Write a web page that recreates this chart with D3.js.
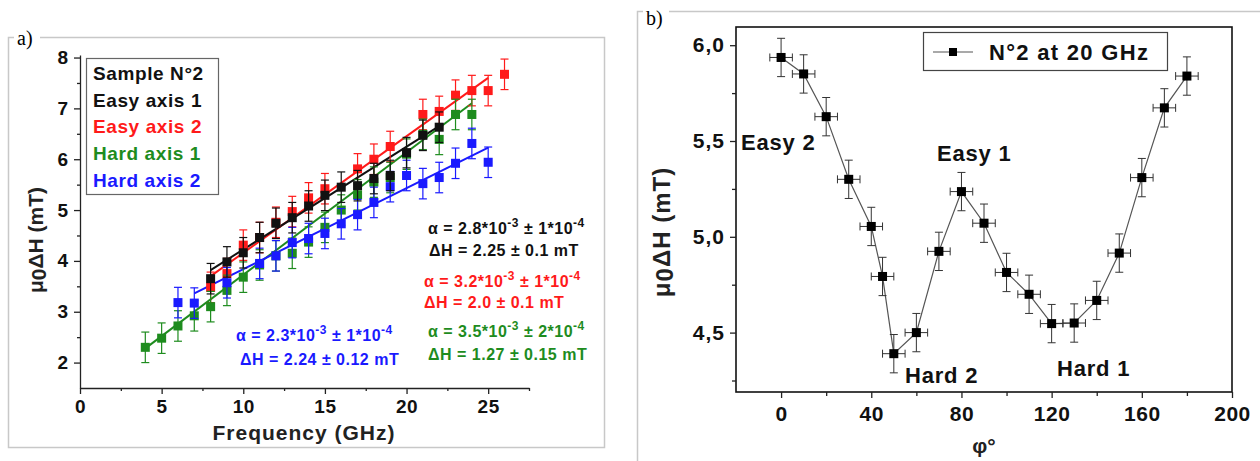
<!DOCTYPE html>
<html><head><meta charset="utf-8">
<script src="https://cdnjs.cloudflare.com/ajax/libs/d3/7.8.5/d3.min.js"></script>
<style>
html,body{margin:0;padding:0;background:#fff;}
svg{display:block;}
text{font-family:"Liberation Sans",Arial,sans-serif;font-weight:bold;}
</style></head><body>
<svg id="c" width="1260" height="461"></svg>
<script>
// ---- Panel a data ----
const freqEasy1 = [8,9,10,11,12,13,14,15,16,17,18,19,20,21,22];
const easy1 = [3.65,3.98,4.16,4.46,4.74,4.85,5.08,5.29,5.45,5.48,5.62,5.68,6.13,6.47,6.63];
const freqEasy2 = [8,9,10,11,12,13,14,15,17,18,19,21,22,23,24,25,26];
const easy2 = [3.48,3.75,4.31,4.46,4.76,4.97,5.24,5.42,5.81,6.0,6.25,6.88,6.94,7.26,7.35,7.35,7.67];
const freqHard1 = [4,5,6,7,8,9,10,11,12,13,14,15,16,17,18,19,20,21,22,23,24];
const hard1 = [2.3,2.48,2.72,2.92,3.1,3.42,3.68,3.92,4.1,4.15,4.37,4.66,5.0,5.3,5.55,5.64,6.1,6.49,6.39,6.88,6.88];
const freqHard2 = [6,7,9,11,12,13,14,15,16,17,18,19,20,21,22,23,24,25];
const hard2 = [3.18,3.17,3.57,3.95,4.1,4.36,4.44,4.54,4.73,4.91,5.15,5.46,5.68,5.52,5.64,5.92,6.31,5.94];
const fitEasy1 = [[8,3.82],[22,6.65]];
const fitEasy2 = [[8,3.7],[25,7.6]];
const fitHard1 = [[4,2.28],[24,7.1]];
const fitHard2 = [[7,3.36],[25,6.23]];
const errA = 0.3;
const legendA = ["Sample N°2","Easy axis 1","Easy axis 2","Hard axis 1","Hard axis 2"];
const xTicksA = [0,5,10,15,20,25];
const yTicksA = [2,3,4,5,6,7,8];

// ---- Panel b data ----
const phi = [0,10,20,30,40,45,50,60,70,80,90,100,110,120,130,140,150,160,170,180];
const dH20 = [5.936,5.85,5.627,5.30,5.054,4.793,4.39,4.50,4.924,5.236,5.071,4.814,4.70,4.547,4.55,4.668,4.915,5.309,5.673,5.839];
const errPhi = 5;
const errB = 0.1;
const xTicksB = [0,40,80,120,160,200];
const yTicksB = [4.5,5.0,5.5,6.0];

const RED="#ff1a1a", BLK="#111", GRN="#1e8c1e", BLU="#1a1aff";

const svg = d3.select("#c");

// ================= Panel a =================
svg.append("rect").attr("x",8.5).attr("y",37.5).attr("width",596).attr("height",410)
  .attr("fill","#fff").attr("stroke","#c8c8c8").attr("stroke-width",1.5);
svg.append("rect").attr("x",14).attr("y",26).attr("width",26).attr("height",22).attr("fill","#fff");
svg.append("text").attr("x",17).attr("y",45).text("a)")
  .style("font-family","'Liberation Serif',serif").style("font-weight","normal").style("font-size","20px");

const xA = d3.scaleLinear().domain([0,27.5]).range([80,529]);
const yA = d3.scaleLinear().domain([1.5,8.05]).range([388,55]);

const gA = svg.append("g");
function styleAxis(g){
  g.selectAll("path").attr("stroke","#222").attr("stroke-width",1.3);
  g.selectAll("line").attr("stroke","#222").attr("stroke-width",1.3);
}
const axXA = gA.append("g").attr("transform","translate(0,388)")
  .call(d3.axisBottom(xA).tickValues(xTicksA).tickSize(6).tickSizeOuter(0).tickPadding(6).tickFormat(d3.format("d")));
axXA.selectAll("text").style("font-size","19px").attr("fill","#111").attr("letter-spacing","0.5px");
styleAxis(axXA);
gA.append("g").attr("transform","translate(0,388)")
  .call(d3.axisBottom(xA).tickValues([2.5,7.5,12.5,17.5,22.5,27.5]).tickSize(3).tickFormat("")).call(g=>{g.select("path").remove();styleAxis(g);});
const axYA = gA.append("g").attr("transform","translate(80,0)")
  .call(d3.axisLeft(yA).tickValues(yTicksA).tickSize(6).tickSizeOuter(0).tickPadding(6).tickFormat(d3.format("d")));
axYA.selectAll("text").style("font-size","19px").attr("fill","#111");
styleAxis(axYA);
gA.append("g").attr("transform","translate(80,0)")
  .call(d3.axisLeft(yA).tickValues([2.5,3.5,4.5,5.5,6.5,7.5]).tickSize(3).tickFormat("")).call(g=>{g.select("path").remove();styleAxis(g);});

svg.append("text").attr("x",304).attr("y",440).attr("text-anchor","middle")
  .style("font-size","21px").attr("letter-spacing","1px").attr("fill","#222").text("Frequency (GHz)");
const ylA = svg.append("text").attr("transform","translate(43,240) rotate(-90)").attr("text-anchor","middle")
  .style("font-size","21px").attr("fill","#222");
ylA.append("tspan").text("μ");
ylA.append("tspan").attr("dy",3).text("0");
ylA.append("tspan").attr("dy",-3).text("ΔH (mT)");

// fits
const lineA = d3.line().x(d=>xA(d[0])).y(d=>yA(d[1]));
[[fitEasy2,RED],[fitEasy1,BLK],[fitHard1,GRN],[fitHard2,BLU]].forEach(([f,c])=>{
  svg.append("path").attr("d",lineA(f)).attr("stroke",c).attr("stroke-width",2).attr("fill","none");
});

function seriesA(fx,vals,col){
  const g = svg.append("g");
  const data = fx.map((f,i)=>({f,v:vals[i]}));
  const eb = g.selectAll(".eb").data(data).enter().append("g");
  eb.append("line").attr("x1",d=>xA(d.f)).attr("x2",d=>xA(d.f)).attr("y1",d=>yA(d.v-errA)).attr("y2",d=>yA(d.v+errA))
    .attr("stroke",col).attr("stroke-width",1.2);
  [1,-1].forEach(s=>{
    eb.append("line").attr("x1",d=>xA(d.f)-4).attr("x2",d=>xA(d.f)+4).attr("y1",d=>yA(d.v+s*errA)).attr("y2",d=>yA(d.v+s*errA))
      .attr("stroke",col).attr("stroke-width",1.2);
  });
  g.selectAll(".m").data(data).enter().append("rect")
    .attr("x",d=>xA(d.f)-4.5).attr("y",d=>yA(d.v)-4.5).attr("width",9).attr("height",9).attr("fill",col);
}
seriesA(freqEasy2,easy2,RED);
seriesA(freqHard1,hard1,GRN);
seriesA(freqHard2,hard2,BLU);
seriesA(freqEasy1,easy1,BLK);

// legend a
svg.append("rect").attr("x",86.5).attr("y",58.5).attr("width",132).attr("height",136)
  .attr("fill","#fff").attr("stroke","#666").attr("stroke-width",1.2);
const legCols = [BLK,BLK,RED,GRN,BLU];
legendA.forEach((t,i)=>{
  svg.append("text").attr("x",93).attr("y",80+i*26.7).style("font-size","19px").attr("letter-spacing","0.6px")
    .attr("fill",legCols[i]).text(t);
});

// annotations
function ann(x,y,col,parts){
  const t = svg.append("text").attr("x",x).attr("y",y).attr("fill",col).style("font-size","16px").attr("letter-spacing","0.5px");
  parts.forEach(p=>{
    if(typeof p==="string") t.append("tspan").text(p);
    else t.append("tspan").attr("dy",p.dy).style("font-size",p.s||"16px").text(p.t);
  });
}
function alphaParts(a,b,c){
  return ["α = "+a+"*10",{t:"-3",dy:-7,s:"12px"},{t:"  ± "+b+"*10",dy:7},{t:"-4",dy:-7,s:"12px"}];
}
ann(428,234,BLK,alphaParts("2.8","1"));
ann(429,256,BLK,["ΔH = 2.25 ± 0.1 mT"]);
ann(424,287,RED,alphaParts("3.2","1"));
ann(424,308,RED,["ΔH = 2.0 ± 0.1 mT"]);
ann(428,337,GRN,alphaParts("3.5","2"));
ann(428,360,GRN,["ΔH = 1.27 ± 0.15 mT"]);
ann(236,341,BLU,alphaParts("2.3","1"));
ann(240,365,BLU,["ΔH = 2.24 ± 0.12 mT"]);

// ================= Panel b =================
svg.append("path").attr("d","M637.5,461 V11.5 H1260").attr("stroke","#c8c8c8").attr("stroke-width",1.5).attr("fill","none");
svg.append("rect").attr("x",643).attr("y",4).attr("width",26).attr("height",22).attr("fill","#fff");
svg.append("text").attr("x",646).attr("y",25).text("b)")
  .style("font-family","'Liberation Serif',serif").style("font-weight","normal").style("font-size","20px");

const xB = d3.scaleLinear().domain([-20,200]).range([736,1232]);
const yB = d3.scaleLinear().domain([4.19,6.095]).range([392,27]);

svg.append("rect").attr("x",736).attr("y",27).attr("width",496).attr("height",365)
  .attr("fill","none").attr("stroke","#111").attr("stroke-width",1.6);
const axXB = svg.append("g").attr("transform","translate(0,392)")
  .call(d3.axisBottom(xB).tickValues(xTicksB).tickSize(6).tickSizeOuter(0).tickPadding(8).tickFormat(d3.format("d")));
axXB.selectAll("text").style("font-size","21px").attr("fill","#111").attr("letter-spacing","0.5px");
styleAxis(axXB); axXB.select("path").remove();
svg.append("g").attr("transform","translate(0,392)")
  .call(d3.axisBottom(xB).tickValues([20,60,100,140,180]).tickSize(4).tickFormat("")).call(g=>{g.select("path").remove();styleAxis(g);});
const axYB = svg.append("g").attr("transform","translate(736,0)")
  .call(d3.axisLeft(yB).tickValues(yTicksB).tickSize(6).tickSizeOuter(0).tickPadding(5).tickFormat(d=>d.toFixed(1).replace(".",",")));
axYB.selectAll("text").style("font-size","21px").attr("fill","#111").attr("letter-spacing","1px");
styleAxis(axYB); axYB.select("path").remove();
svg.append("g").attr("transform","translate(736,0)")
  .call(d3.axisLeft(yB).tickValues([4.25,4.75,5.25,5.75]).tickSize(4).tickFormat("")).call(g=>{g.select("path").remove();styleAxis(g);});

svg.append("text").attr("x",984).attr("y",453).attr("text-anchor","middle").style("font-size","21px").attr("fill","#222").text("φ°");
const ylB = svg.append("text").attr("transform","translate(670,232) rotate(-90)").attr("text-anchor","middle")
  .style("font-size","24px").attr("letter-spacing","1px").attr("fill","#222");
ylB.append("tspan").text("μ");
ylB.append("tspan").attr("dy",3).text("0");
ylB.append("tspan").attr("dy",-3).text("ΔH (mT)");

const dataB = phi.map((p,i)=>({p,v:dH20[i]}));
svg.append("path").attr("d",d3.line().x(d=>xB(d.p)).y(d=>yB(d.v))(dataB))
  .attr("stroke","#555").attr("stroke-width",1.2).attr("fill","none");
const ebB = svg.append("g").selectAll("g").data(dataB).enter().append("g").attr("stroke","#333").attr("stroke-width",1);
ebB.append("line").attr("x1",d=>xB(d.p)).attr("x2",d=>xB(d.p)).attr("y1",d=>yB(d.v-errB)).attr("y2",d=>yB(d.v+errB));
[1,-1].forEach(s=>{
  ebB.append("line").attr("x1",d=>xB(d.p)-4).attr("x2",d=>xB(d.p)+4).attr("y1",d=>yB(d.v+s*errB)).attr("y2",d=>yB(d.v+s*errB));
  ebB.append("line").attr("x1",d=>xB(d.p+s*errPhi)).attr("x2",d=>xB(d.p+s*errPhi)).attr("y1",d=>yB(d.v)-4).attr("y2",d=>yB(d.v)+4);
});
ebB.append("line").attr("x1",d=>xB(d.p-errPhi)).attr("x2",d=>xB(d.p+errPhi)).attr("y1",d=>yB(d.v)).attr("y2",d=>yB(d.v));
svg.append("g").selectAll("rect").data(dataB).enter().append("rect")
  .attr("x",d=>xB(d.p)-4.5).attr("y",d=>yB(d.v)-4.5).attr("width",9).attr("height",9).attr("fill","#000");

// legend b
svg.append("rect").attr("x",923.5).attr("y",32.5).attr("width",244).attr("height",38)
  .attr("fill","#fff").attr("stroke","#444").attr("stroke-width",1.2);
svg.append("line").attr("x1",933).attr("x2",973).attr("y1",52).attr("y2",52).attr("stroke","#555").attr("stroke-width",1.2);
svg.append("rect").attr("x",949).attr("y",48).attr("width",8).attr("height",8).attr("fill","#000");
svg.append("text").attr("x",989).attr("y",60).style("font-size","22px").attr("letter-spacing","1.3px").attr("fill","#111").text("N°2 at 20 GHz");

// annotations b
[["Easy 2",741,150],["Easy 1",937,161],["Hard 2",905,383],["Hard 1",1057,376]].forEach(([t,x,y])=>{
  svg.append("text").attr("x",x).attr("y",y).style("font-size","22px").attr("letter-spacing","0.8px").attr("fill","#111").text(t);
});
</script>
</body></html>
